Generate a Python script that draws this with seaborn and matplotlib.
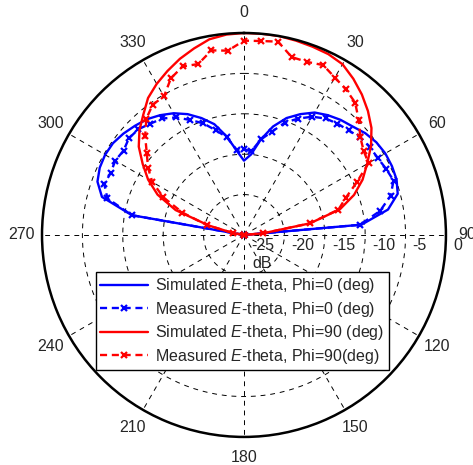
import numpy as np
import pandas as pd
import matplotlib
matplotlib.use("Agg")
import matplotlib.pyplot as plt
import matplotlib.transforms as mtransforms
import seaborn as sns

# ---------------- data ----------------
angles_deg = list(range(-90, 91, 5))

sim_phi0 = [-25, -25, -10.9, -6.8, -5.7, -5.3, -5.15, -5.2, -5.5, -5.9, -6.3, -6.9,
            -7.6, -8.5, -9.6, -10.8, -12.6, -14.5, -15.8, -15.0, -13.0, -11.1, -9.6,
            -8.5, -7.5, -6.9, -6.4, -6.0, -5.4, -5.0, -4.8, -4.8, -4.9, -5.3, -6.9,
            -10.4, -25]
meas_phi0 = [-25, -25, -10.9, -7.5, -6.6, -6.8, -6.6, -6.8, -6.4, -6.5, -7.0, -7.4,
             -8.2, -9.3, -10.3, -11.6, -12.7, -14.4, -14.4, -14.6, -13.0, -11.8, -10.2,
             -9.1, -8.1, -7.4, -7.0, -6.7, -6.2, -6.0, -5.9, -5.6, -5.3, -6.2, -7.9,
             -10.6, -25]
sim_phi90 = [-25, -25, -23.6, -20.5, -16.0, -13.2, -11.3, -9.7, -8.0, -6.7, -5.6, -4.3,
             -3.4, -2.6, -1.8, -1.1, -0.4, -0.1, 0.0, 0.0, 0.0, -0.1, -0.2,
             -0.3, -0.6, -1.4, -2.3, -3.3, -4.4, -5.8, -7.4, -8.8, -10.5, -12.7, -16.7,
             -22.6, -25]
meas_phi90 = [-25, -25, -23.6, -20.2, -16.9, -14.0, -11.9, -10.5, -9.3, -7.7, -6.2, -5.3,
              -5.2, -3.6, -2.8, -3.1, -1.8, -2.1, -0.95, -0.9, -0.7, -2.2, -2.2,
              -1.8, -2.5, -3.0, -3.6, -4.9, -6.2, -6.9, -7.2, -9.6, -11.6, -12.9, -16.7,
              -22.6, -25]

series_labels = [
    "Simulated $\\mathit{E}$-theta, Phi=0 (deg)",
    "Measured $\\mathit{E}$-theta, Phi=0 (deg)",
    "Simulated $\\mathit{E}$-theta, Phi=90 (deg)",
    "Measured $\\mathit{E}$-theta, Phi=90(deg)",
]
angle_ticks = list(range(0, 360, 30))
angle_tick_labels = [str(a) for a in angle_ticks]
r_ticks = [-25, -20, -15, -10, -5, 0]
r_tick_labels = ["-25", "-20", "-15", "-10", "-5", "0"]
r_unit = "dB"

# ---------------- style ----------------
sns.set_style("white")
plt.rcParams["font.family"] = ["Liberation Sans", "DejaVu Sans"]
plt.rcParams["mathtext.fontset"] = "custom"
plt.rcParams["mathtext.rm"] = "Liberation Sans"
plt.rcParams["mathtext.it"] = "Liberation Sans:italic"
FS = 11.5

fig = plt.figure(figsize=(4.73, 4.65), dpi=100)
ax = fig.add_axes([0.0888, 0.0602, 0.854, 0.869], projection="polar")
ax.set_theta_zero_location("N")
ax.set_theta_direction(-1)

th = np.deg2rad(angles_deg)
styles = [
    (sim_phi0, "#0000ff", "-", None),
    (meas_phi0, "#0000ff", (0, (3, 2)), "x"),
    (sim_phi90, "#ff0000", "-", None),
    (meas_phi90, "#ff0000", (0, (3, 2)), "x"),
]
for (vals, col, ls, mk), lab in zip(styles, series_labels):
    df = pd.DataFrame({"theta": th, "r": vals})
    sns.lineplot(data=df, x="theta", y="r", ax=ax, sort=False, estimator=None,
                 color=col, linestyle=ls, marker=mk, markersize=5,
                 markeredgewidth=1.6, markeredgecolor=col, linewidth=1.7,
                 label=lab, legend=False)

ax.set_xlabel("")
ax.set_ylabel("")
ax.set_rlim(-25, 0)
ax.set_rticks([-20, -15, -10, -5])
ax.set_yticklabels([])
ax.set_xticks(np.deg2rad(angle_ticks))
ax.set_xticklabels(angle_tick_labels, fontsize=FS)
ax.tick_params(axis="x", pad=8.0, length=0)
ax.grid(True, color="k", linestyle=(0, (5, 5)), linewidth=0.7)
ax.spines["polar"].set_linewidth(1.8)
ax.spines["polar"].set_color("k")

# radial labels (right horizontal axis, below the line)
off = mtransforms.offset_copy(ax.transData, fig=fig, x=7, y=-11, units="dots")
for v, s in zip(r_ticks, r_tick_labels):
    ax.text(np.deg2rad(90), v, s, transform=off, ha="left", va="center",
            fontsize=FS, clip_on=False)
off2 = mtransforms.offset_copy(ax.transData, fig=fig, x=18, y=-29, units="dots")
ax.text(np.deg2rad(90), -25, r_unit, transform=off2, ha="center", va="center",
        fontsize=FS, clip_on=False)

leg = fig.legend(*ax.get_legend_handles_labels(), loc="center",
                 bbox_to_anchor=(0.5127, 0.3097), bbox_transform=fig.transFigure,
                 fontsize=FS, frameon=True, fancybox=False, framealpha=1,
                 edgecolor="k", handlelength=3.0, handletextpad=0.45,
                 labelspacing=0.28, borderpad=0.25, borderaxespad=0)
leg.get_frame().set_linewidth(1.0)

fig.savefig("out.png", dpi=100)
